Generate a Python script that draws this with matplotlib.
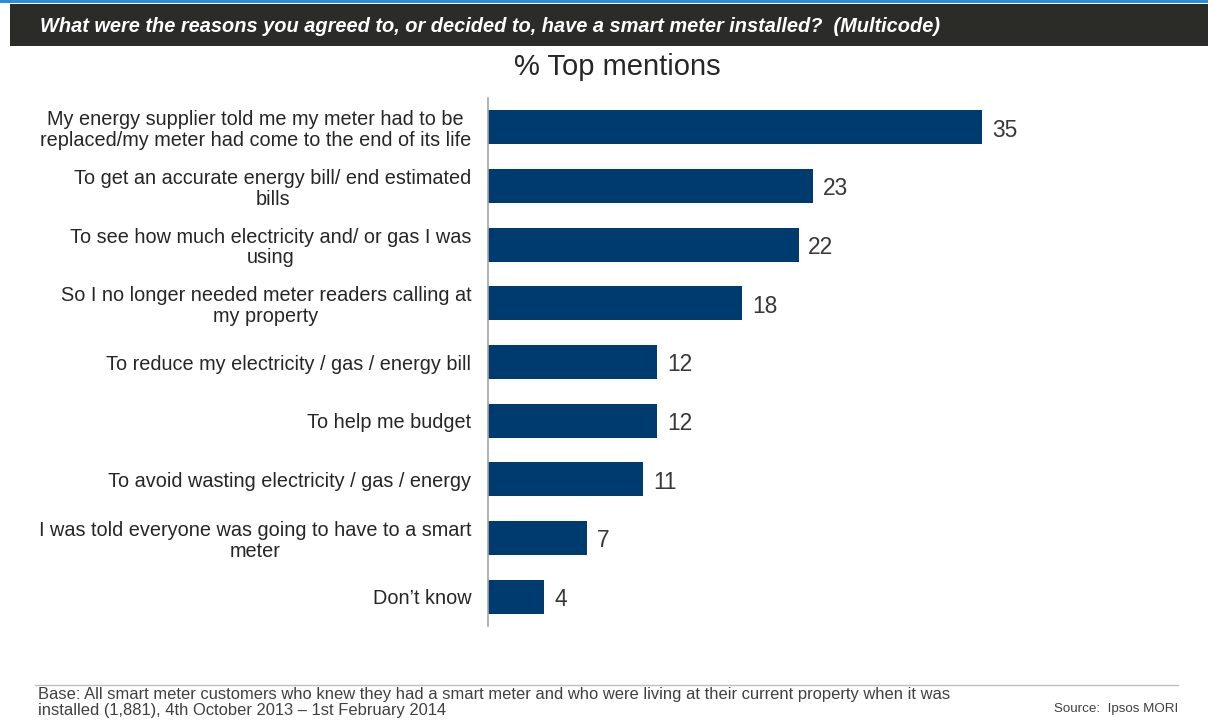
import matplotlib.pyplot as plt
from matplotlib.lines import Line2D
from matplotlib.patches import Rectangle

plt.rcParams["font.family"] = ["Liberation Sans", "DejaVu Sans"]

reasons = [
    "My energy supplier told me my meter had to be\nreplaced/my meter had come to the end of its life",
    "To get an accurate energy bill/ end estimated\nbills",
    "To see how much electricity and/ or gas I was\nusing",
    "So I no longer needed meter readers calling at\nmy property",
    "To reduce my electricity / gas / energy bill",
    "To help me budget",
    "To avoid wasting electricity / gas / energy",
    "I was told everyone was going to have to a smart\nmeter",
    "Don\u2019t know",
]
pct = [35, 23, 22, 18, 12, 12, 11, 7, 4]

question = "What were the reasons you agreed to, or decided to, have a smart meter installed?  (Multicode)"
chart_title = "% Top mentions"
base_note = ("Base: All smart meter customers who knew they had a smart meter and who were living at their current property when it was\n"
             "installed (1,881), 4th October 2013 \u2013 1st February 2014")
source_note = "Source:  Ipsos MORI"

W, H = 1208, 726
fig = plt.figure(figsize=(W / 100, H / 100), dpi=100)

# header strip
fig.add_artist(Rectangle((0, 1 - 3 / H), 1, 3 / H, transform=fig.transFigure,
                         color="#2a8fd8", lw=0))
fig.add_artist(Rectangle((10 / W, 1 - 46 / H), 1 - 10 / W, 42 / H, transform=fig.transFigure,
                         color="#2b2b27", lw=0))
fig.text(40 / W, 1 - 27 / H, question, color="white", fontsize=14.4,
         fontweight="bold", fontstyle="italic", va="center", ha="left")

ax = fig.add_axes([488 / W, 100 / H, 706 / W, 528 / H])
y = list(range(len(pct)))
ax.barh(y, pct, height=0.58, color="#003b6f")
ax.set_ylim(len(pct) - 0.5, -0.5)
ax.set_xlim(0, 50)
ax.set_yticks(y)
ax.set_yticklabels(reasons, fontsize=14.3, color="#262626",
                   multialignment="center", linespacing=1.12)
ax.tick_params(axis="y", length=0, pad=12)
ax.set_xticks([])
for s in ["top", "right", "bottom"]:
    ax.spines[s].set_visible(False)
ax.spines["left"].set_color("#a6a6a6")
ax.spines["left"].set_linewidth(1.2)

for yi, v in zip(y, pct):
    ax.annotate(str(v), (v, yi), xytext=(7, -2), textcoords="offset points",
                va="center", ha="left", fontsize=16.4, color="#383838")

fig.text(617 / W, 1 - 67 / H, chart_title, fontsize=21, color="#262626",
         ha="center", va="center")

# footer
fig.add_artist(Line2D([35 / W, 1178 / W], [1 - 685 / H, 1 - 685 / H],
                      transform=fig.transFigure, color="#bfbfbf", lw=1))
fig.text(38 / W, 1 - 687 / H, base_note, fontsize=11.9, color="#404040",
         ha="left", va="top", linespacing=1.05)
fig.text(1178 / W, 1 - 709 / H, source_note, fontsize=9.6, color="#404040",
         ha="right", va="center")

fig.savefig("out.png", dpi=100)
